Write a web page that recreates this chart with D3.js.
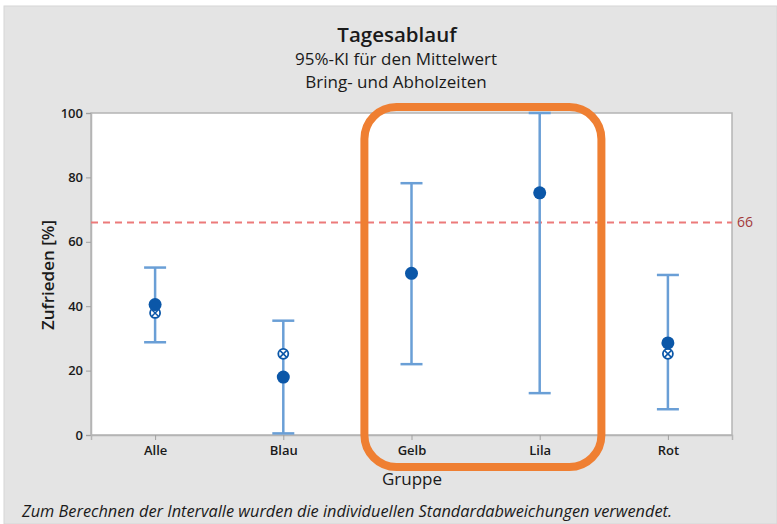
<!DOCTYPE html>
<html lang="de">
<head>
<meta charset="utf-8">
<title>Tagesablauf</title>
<script src="https://d3js.org/d3.v7.min.js"></script>
<style>
  body { margin: 0; background: #fff; }
  text { font-family: "Open Sans", "DejaVu Sans", sans-serif; fill: #1a1a1a; }
</style>
</head>
<body>
<script>
// data
var groups  = ["Alle", "Blau", "Gelb", "Lila", "Rot"];
var means   = [40.5, 18, 50.2, 75.2, 28.6];
var medians = [37.9, 25.2, null, null, 25.2];
var lowers  = [28.8, 0.5, 22, 13, 8];
var uppers  = [52, 35.5, 78.2, 100, 49.7];
var yTicks  = [0, 20, 40, 60, 80, 100];
var refValue = 66;

var w = 777, h = 524;
var m = {left: 91, right: 777 - 732, top: 113, bottom: 524 - 435};

var svg = d3.select("body").append("svg")
  .attr("width", w).attr("height", h);

// figure background
svg.append("rect").attr("x", 4).attr("y", 6).attr("width", w - 4).attr("height", h - 6)
  .attr("fill", "#e4e4e4").attr("stroke", "#d6d6d6");

var x = d3.scalePoint().domain(groups)
  .range([m.left, w - m.right]).padding(0.5);
var y = d3.scaleLinear().domain([0, 100]).range([h - m.bottom, m.top]);

// plot area
svg.append("rect")
  .attr("x", m.left).attr("y", m.top)
  .attr("width", w - m.left - m.right).attr("height", h - m.top - m.bottom)
  .attr("fill", "#fff").attr("stroke", "#b4b4b4").attr("stroke-width", 1.5);

// axes
var yAxis = svg.append("g").attr("transform", "translate(" + m.left + ",0)")
  .call(d3.axisLeft(y).tickValues(yTicks).tickSize(5).tickPadding(3));
var xAxis = svg.append("g").attr("transform", "translate(0," + (h - m.bottom) + ")")
  .call(d3.axisBottom(x).tickSize(5).tickPadding(6));
[yAxis, xAxis].forEach(function(a) {
  a.select(".domain").attr("stroke", "#b4b4b4").attr("stroke-width", 1.5);
  a.selectAll(".tick line").attr("stroke", "#a0a0a0");
  a.selectAll(".tick text").style("font-size", "13px").style("font-weight", 600)
    .attr("fill", "#222");
});

// reference line
svg.append("line")
  .attr("x1", m.left).attr("x2", w - m.right)
  .attr("y1", y(refValue)).attr("y2", y(refValue))
  .attr("stroke", "#ec7a7a").attr("stroke-width", 2).attr("stroke-dasharray", "7,5");
svg.append("text")
  .attr("x", w - m.right + 5).attr("y", y(refValue) + 5)
  .style("font-size", "14px").style("fill", "#a33a3a")
  .text(refValue);

// intervals
var rows = groups.map(function(g, i) {
  return {g: g, mean: means[i], median: medians[i], lo: lowers[i], hi: uppers[i]};
});
var capW = 11;
var bars = svg.append("g").selectAll("g").data(rows).enter().append("g");
bars.append("line")
  .attr("x1", function(d) { return x(d.g); }).attr("x2", function(d) { return x(d.g); })
  .attr("y1", function(d) { return y(d.lo); }).attr("y2", function(d) { return y(d.hi); })
  .attr("stroke", "#6a9fd6").attr("stroke-width", 2.5);
["lo", "hi"].forEach(function(k) {
  bars.append("line")
    .attr("x1", function(d) { return x(d.g) - capW; }).attr("x2", function(d) { return x(d.g) + capW; })
    .attr("y1", function(d) { return y(d[k]); }).attr("y2", function(d) { return y(d[k]); })
    .attr("stroke", "#6a9fd6").attr("stroke-width", 2.5);
});

// median symbol (circle with cross)
var med = bars.filter(function(d) { return d.median != null; });
med.append("circle")
  .attr("cx", function(d) { return x(d.g); }).attr("cy", function(d) { return y(d.median); })
  .attr("r", 5).attr("fill", "#fff").attr("stroke", "#0b57a8").attr("stroke-width", 1.8);
med.append("path")
  .attr("d", function(d) {
    var cx = x(d.g), cy = y(d.median), r = 3.5;
    return "M" + (cx - r) + "," + (cy - r) + "L" + (cx + r) + "," + (cy + r) +
           "M" + (cx - r) + "," + (cy + r) + "L" + (cx + r) + "," + (cy - r);
  })
  .attr("stroke", "#0b57a8").attr("stroke-width", 1.5);

// mean dots
bars.append("circle")
  .attr("cx", function(d) { return x(d.g); }).attr("cy", function(d) { return y(d.mean); })
  .attr("r", 6.5).attr("fill", "#0b57a8");

// titles
svg.append("text").attr("x", 397).attr("y", 42).attr("text-anchor", "middle")
  .style("font-size", "20.5px").style("font-weight", 600).text("Tagesablauf");
svg.append("text").attr("x", 396).attr("y", 65).attr("text-anchor", "middle")
  .style("font-size", "17px").text("95%-KI für den Mittelwert");
svg.append("text").attr("x", 396).attr("y", 88).attr("text-anchor", "middle")
  .style("font-size", "17px").text("Bring- und Abholzeiten");

// axis labels
svg.append("text").attr("transform", "translate(54,275) rotate(-90)")
  .attr("text-anchor", "middle").style("font-size", "17px").style("font-weight", 600)
  .text("Zufrieden [%]");
svg.append("text").attr("x", 412).attr("y", 485).attr("text-anchor", "middle")
  .style("font-size", "17px").style("font-weight", 500).text("Gruppe");

// footnote
svg.append("text").attr("x", 22).attr("y", 517)
  .style("font-size", "16px").style("font-style", "italic")
  .attr("textLength", 650).attr("lengthAdjust", "spacingAndGlyphs")
  .text("Zum Berechnen der Intervalle wurden die individuellen Standardabweichungen verwendet.");

// orange highlight
svg.append("rect")
  .attr("x", (x("Gelb") + x("Blau")) / 2 + 17).attr("y", 107)
  .attr("width", 237).attr("height", 360)
  .attr("rx", 32).attr("ry", 32)
  .attr("fill", "none").attr("stroke", "#ef7f32").attr("stroke-width", 8);
</script>
</body>
</html>
